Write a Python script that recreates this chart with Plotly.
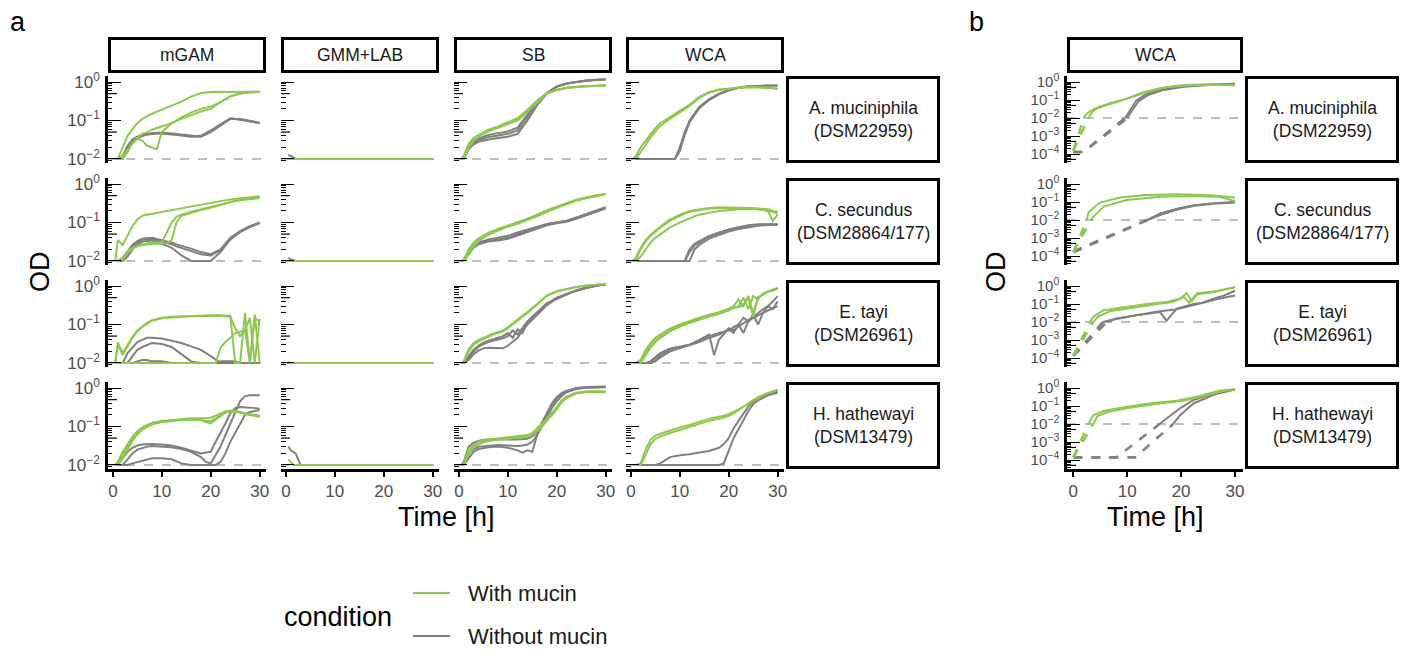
import math
import plotly.graph_objects as go

# ------------------------------------------------------------------ data
MEDIA = ["mGAM", "GMM+LAB", "SB", "WCA"]
STRAINS = ["A. muciniphila<br>(DSM22959)", "C. secundus<br>(DSM28864/177)",
           "E. tayi<br>(DSM26961)", "H. hathewayi<br>(DSM13479)"]
CONDITIONS = ["With mucin", "Without mucin"]
DETECTION_LIMIT = 0.01
X_TICKS = [0, 10, 20, 30]
A_Y_TICKS = [0.01, 0.1, 1]
B_Y_TICKS = [1e-4, 1e-3, 1e-2, 1e-1, 1]

# --- A. muciniphila
T_AM_MGAM = [0.5, 1, 2, 3, 4, 5, 6, 7, 8, 9, 10, 12, 14, 16, 18, 20, 22, 24, 26, 28, 30]
AM_MGAM_W = [
    [0.01, 0.01, 0.02, 0.04, 0.06, 0.085, 0.11, 0.13, 0.15, 0.17, 0.19, 0.24, 0.31, 0.42, 0.52, 0.55, 0.55, 0.56, 0.57, 0.57, 0.56],
    [0.01, 0.01, 0.012, 0.018, 0.025, 0.035, 0.045, 0.05, 0.058, 0.064, 0.07, 0.085, 0.11, 0.14, 0.17, 0.2, 0.3, 0.42, 0.5, 0.54, 0.55],
    [0.01, 0.01, 0.01, 0.015, 0.026, 0.033, 0.03, 0.022, 0.02, 0.018, 0.05, 0.085, 0.12, 0.16, 0.2, 0.23, 0.3, 0.43, 0.52, 0.55, 0.56],
]
AM_MGAM_WO = [
    [0.01, 0.01, 0.012, 0.022, 0.032, 0.038, 0.042, 0.045, 0.047, 0.048, 0.048, 0.046, 0.043, 0.04, 0.038, 0.05, 0.075, 0.11, 0.11, 0.1, 0.088],
    [0.01, 0.01, 0.011, 0.02, 0.03, 0.036, 0.04, 0.044, 0.046, 0.047, 0.047, 0.045, 0.042, 0.039, 0.04, 0.055, 0.08, 0.115, 0.105, 0.095, 0.085],
    [0.01, 0.01, 0.01, 0.018, 0.028, 0.034, 0.04, 0.043, 0.045, 0.046, 0.046, 0.044, 0.041, 0.038, 0.039, 0.052, 0.078, 0.112, 0.108, 0.098, 0.086],
]
T_AM_GMM = [0.5, 1, 2, 30]
AM_GMM_W = [[0.01, 0.01, 0.01, 0.01]]
AM_GMM_WO = [[0.013, 0.012, 0.01, 0.01]]
T_AM_SB = [0.5, 1, 2, 3, 4, 5, 6, 8, 10, 12, 14, 16, 18, 20, 22, 24, 26, 28, 30]
AM_SB_W = [
    [0.01, 0.01, 0.02, 0.03, 0.038, 0.045, 0.052, 0.065, 0.08, 0.1, 0.17, 0.3, 0.5, 0.62, 0.7, 0.75, 0.78, 0.8, 0.82],
    [0.01, 0.01, 0.022, 0.032, 0.04, 0.047, 0.055, 0.068, 0.085, 0.11, 0.18, 0.32, 0.5, 0.62, 0.7, 0.75, 0.78, 0.8, 0.81],
    [0.01, 0.012, 0.025, 0.035, 0.042, 0.05, 0.058, 0.07, 0.088, 0.115, 0.19, 0.33, 0.52, 0.63, 0.71, 0.76, 0.79, 0.8, 0.82],
]
AM_SB_WO = [
    [0.01, 0.01, 0.018, 0.024, 0.028, 0.03, 0.032, 0.035, 0.038, 0.045, 0.1, 0.25, 0.5, 0.75, 0.9, 1.0, 1.08, 1.13, 1.16],
    [0.01, 0.01, 0.019, 0.026, 0.031, 0.034, 0.037, 0.041, 0.045, 0.055, 0.12, 0.28, 0.52, 0.76, 0.92, 1.02, 1.1, 1.15, 1.18],
    [0.01, 0.01, 0.02, 0.028, 0.034, 0.038, 0.042, 0.047, 0.052, 0.065, 0.14, 0.3, 0.53, 0.77, 0.92, 1.02, 1.1, 1.14, 1.17],
]
T_AM_WCA = [0.5, 1, 2, 3, 4, 5, 6, 8, 9, 10, 11, 12, 14, 16, 18, 20, 22, 24, 26, 28, 30]
AM_WCA_W = [
    [0.01, 0.012, 0.02, 0.03, 0.045, 0.063, 0.085, 0.125, 0.15, 0.18, 0.22, 0.26, 0.41, 0.55, 0.64, 0.68, 0.72, 0.74, 0.74, 0.72, 0.68],
    [0.01, 0.01, 0.015, 0.024, 0.036, 0.052, 0.072, 0.11, 0.135, 0.165, 0.2, 0.24, 0.39, 0.53, 0.62, 0.67, 0.71, 0.73, 0.73, 0.71, 0.67],
]
AM_WCA_WO = [
    [0.01, 0.01, 0.01, 0.01, 0.01, 0.01, 0.01, 0.01, 0.01, 0.02, 0.05, 0.1, 0.23, 0.36, 0.5, 0.62, 0.72, 0.78, 0.8, 0.82, 0.82],
    [0.01, 0.01, 0.01, 0.01, 0.01, 0.01, 0.01, 0.01, 0.01, 0.016, 0.042, 0.09, 0.21, 0.34, 0.48, 0.6, 0.7, 0.77, 0.8, 0.81, 0.81],
]

# --- C. secundus
T_CS_MGAM = [0.5, 1, 2, 3, 4, 5, 6, 8, 10, 11, 12, 13, 14, 16, 18, 20, 22, 24, 26, 28, 30]
CS_MGAM_W = [
    [0.01, 0.035, 0.026, 0.045, 0.08, 0.12, 0.15, 0.17, 0.19, 0.2, 0.21, 0.22, 0.23, 0.26, 0.29, 0.33, 0.37, 0.4, 0.43, 0.46, 0.48],
    [0.01, 0.01, 0.012, 0.018, 0.022, 0.025, 0.027, 0.03, 0.03, 0.055, 0.1, 0.14, 0.16, 0.19, 0.22, 0.25, 0.3, 0.35, 0.39, 0.42, 0.44],
    [0.01, 0.01, 0.011, 0.016, 0.021, 0.024, 0.026, 0.028, 0.028, 0.029, 0.035, 0.1, 0.15, 0.18, 0.21, 0.24, 0.29, 0.34, 0.38, 0.41, 0.43],
]
CS_MGAM_WO = [
    [0.01, 0.01, 0.012, 0.018, 0.026, 0.033, 0.038, 0.04, 0.035, 0.032, 0.03, 0.027, 0.025, 0.021, 0.017, 0.015, 0.02, 0.04, 0.06, 0.08, 0.1],
    [0.01, 0.01, 0.011, 0.016, 0.024, 0.031, 0.036, 0.037, 0.032, 0.029, 0.027, 0.024, 0.022, 0.018, 0.015, 0.014, 0.019, 0.038, 0.058, 0.078, 0.098],
    [0.01, 0.01, 0.01, 0.013, 0.02, 0.027, 0.032, 0.034, 0.028, 0.025, 0.022, 0.018, 0.014, 0.01, 0.01, 0.01, 0.017, 0.036, 0.056, 0.076, 0.095],
]
T_CS_GMM = [0.5, 1, 2, 30]
CS_GMM_W = [[0.01, 0.01, 0.01, 0.01]]
CS_GMM_WO = [[0.012, 0.011, 0.01, 0.01]]
T_CS_SB = [0.5, 1, 2, 3, 4, 5, 6, 8, 10, 12, 14, 16, 18, 20, 22, 24, 26, 28, 30]
CS_SB_W = [
    [0.01, 0.01, 0.017, 0.027, 0.036, 0.045, 0.052, 0.066, 0.078, 0.095, 0.12, 0.15, 0.2, 0.25, 0.31, 0.38, 0.44, 0.5, 0.55],
    [0.01, 0.011, 0.02, 0.03, 0.038, 0.046, 0.054, 0.068, 0.082, 0.1, 0.125, 0.16, 0.21, 0.26, 0.32, 0.39, 0.45, 0.51, 0.55],
    [0.01, 0.01, 0.015, 0.024, 0.032, 0.04, 0.048, 0.062, 0.078, 0.093, 0.115, 0.145, 0.19, 0.24, 0.3, 0.37, 0.43, 0.49, 0.54],
]
CS_SB_WO = [
    [0.01, 0.01, 0.016, 0.023, 0.028, 0.031, 0.033, 0.036, 0.04, 0.05, 0.06, 0.075, 0.09, 0.1, 0.11, 0.13, 0.16, 0.2, 0.24],
    [0.01, 0.01, 0.015, 0.022, 0.027, 0.03, 0.032, 0.034, 0.038, 0.046, 0.056, 0.07, 0.085, 0.095, 0.105, 0.125, 0.155, 0.19, 0.23],
    [0.01, 0.01, 0.018, 0.025, 0.03, 0.033, 0.036, 0.04, 0.045, 0.055, 0.065, 0.078, 0.092, 0.102, 0.112, 0.135, 0.165, 0.21, 0.25],
]
T_CS_WCA = [0.5, 1, 2, 3, 4, 5, 6, 8, 10, 11, 12, 13, 14, 16, 18, 20, 22, 24, 26, 28, 29, 30]
CS_WCA_W = [
    [0.01, 0.012, 0.022, 0.035, 0.048, 0.062, 0.078, 0.12, 0.16, 0.18, 0.2, 0.21, 0.22, 0.24, 0.25, 0.25, 0.25, 0.24, 0.23, 0.22, 0.2, 0.19],
    [0.01, 0.01, 0.013, 0.02, 0.03, 0.04, 0.05, 0.075, 0.1, 0.115, 0.13, 0.145, 0.16, 0.18, 0.2, 0.21, 0.22, 0.22, 0.22, 0.2, 0.11, 0.16],
    [0.01, 0.011, 0.02, 0.032, 0.045, 0.058, 0.073, 0.11, 0.15, 0.17, 0.19, 0.2, 0.21, 0.23, 0.24, 0.24, 0.24, 0.235, 0.225, 0.2, 0.19, 0.17],
]
CS_WCA_WO = [
    [0.01, 0.01, 0.01, 0.01, 0.01, 0.01, 0.01, 0.01, 0.01, 0.01, 0.02, 0.028, 0.033, 0.045, 0.055, 0.066, 0.075, 0.085, 0.09, 0.092, 0.092, 0.09],
    [0.01, 0.01, 0.01, 0.01, 0.01, 0.01, 0.01, 0.01, 0.01, 0.01, 0.017, 0.025, 0.03, 0.042, 0.052, 0.063, 0.072, 0.082, 0.087, 0.09, 0.09, 0.088],
    [0.01, 0.01, 0.01, 0.01, 0.01, 0.01, 0.01, 0.01, 0.01, 0.01, 0.01, 0.02, 0.026, 0.038, 0.048, 0.058, 0.068, 0.076, 0.082, 0.086, 0.087, 0.087],
]

# --- E. tayi
T_ET_MGAM = [0.5, 1, 2, 3, 4, 5, 6, 7, 8, 10, 12, 14, 16, 18, 20, 21, 22, 23, 24, 25, 26, 27, 28, 29, 30]
ET_MGAM_W = [
    [0.01, 0.034, 0.018, 0.03, 0.048, 0.07, 0.09, 0.11, 0.13, 0.15, 0.16, 0.165, 0.17, 0.17, 0.175, 0.175, 0.175, 0.17, 0.17, 0.01, 0.01, 0.2, 0.01, 0.18, 0.01],
    [0.01, 0.03, 0.016, 0.028, 0.045, 0.066, 0.086, 0.105, 0.125, 0.145, 0.155, 0.16, 0.165, 0.168, 0.17, 0.17, 0.17, 0.165, 0.16, 0.08, 0.05, 0.07, 0.15, 0.01, 0.14],
    [0.01, 0.01, 0.01, 0.01, 0.01, 0.01, 0.01, 0.01, 0.01, 0.01, 0.01, 0.01, 0.01, 0.01, 0.01, 0.01, 0.025, 0.035, 0.045, 0.06, 0.065, 0.07, 0.01, 0.15, 0.12],
]
ET_MGAM_WO = [
    [0.01, 0.01, 0.01, 0.018, 0.026, 0.035, 0.04, 0.045, 0.045, 0.043, 0.038, 0.033, 0.027, 0.022, 0.015, 0.012, 0.01, 0.01, 0.01, 0.01, 0.01, 0.01, 0.01, 0.01, 0.01],
    [0.01, 0.01, 0.01, 0.01, 0.015, 0.022, 0.026, 0.03, 0.033, 0.031, 0.026, 0.017, 0.011, 0.01, 0.01, 0.01, 0.01, 0.01, 0.01, 0.01, 0.01, 0.01, 0.01, 0.01, 0.01],
    [0.01, 0.01, 0.01, 0.01, 0.01, 0.011, 0.012, 0.012, 0.011, 0.011, 0.01, 0.01, 0.01, 0.01, 0.01, 0.01, 0.011, 0.011, 0.011, 0.011, 0.01, 0.01, 0.01, 0.01, 0.01],
]
T_ET_GMM = [0.5, 1, 2, 30]
ET_GMM_W = [[0.01, 0.01, 0.01, 0.01]]
ET_GMM_WO = [[0.0105, 0.01, 0.01, 0.01]]
T_ET_SB = [0.5, 1, 2, 3, 4, 5, 6, 7, 8, 9, 10, 11, 12, 13, 14, 16, 18, 20, 22, 24, 26, 28, 30]
ET_SB_W = [
    [0.01, 0.01, 0.02, 0.03, 0.036, 0.042, 0.048, 0.055, 0.06, 0.066, 0.08, 0.1, 0.13, 0.16, 0.2, 0.33, 0.56, 0.72, 0.84, 0.94, 1.02, 1.1, 1.15],
    [0.01, 0.011, 0.023, 0.033, 0.04, 0.046, 0.052, 0.058, 0.064, 0.07, 0.085, 0.105, 0.135, 0.17, 0.21, 0.34, 0.57, 0.73, 0.85, 0.95, 1.03, 1.1, 1.14],
]
ET_SB_WO = [
    [0.01, 0.01, 0.015, 0.022, 0.028, 0.034, 0.038, 0.042, 0.045, 0.05, 0.06, 0.045, 0.075, 0.06, 0.11, 0.2, 0.34, 0.5, 0.62, 0.75, 0.9, 1.02, 1.1],
    [0.01, 0.01, 0.012, 0.017, 0.021, 0.024, 0.025, 0.025, 0.025, 0.024, 0.028, 0.035, 0.045, 0.07, 0.1, 0.18, 0.32, 0.48, 0.62, 0.76, 0.9, 1.02, 1.1],
    [0.01, 0.01, 0.014, 0.02, 0.026, 0.031, 0.035, 0.038, 0.04, 0.044, 0.05, 0.07, 0.055, 0.08, 0.12, 0.21, 0.36, 0.46, 0.6, 0.78, 0.92, 1.03, 1.12],
]
T_ET_WCA = [0.5, 1, 2, 3, 4, 5, 6, 8, 10, 12, 14, 16, 17, 18, 20, 21, 22, 23, 24, 25, 26, 27, 28, 29, 30]
ET_WCA_W = [
    [0.01, 0.01, 0.012, 0.022, 0.033, 0.045, 0.055, 0.078, 0.1, 0.125, 0.15, 0.18, 0.195, 0.21, 0.26, 0.3, 0.45, 0.3, 0.55, 0.2, 0.5, 0.6, 0.72, 0.8, 0.9],
    [0.01, 0.01, 0.011, 0.018, 0.028, 0.038, 0.048, 0.07, 0.092, 0.115, 0.14, 0.165, 0.18, 0.2, 0.24, 0.27, 0.3, 0.5, 0.25, 0.55, 0.45, 0.65, 0.7, 0.78, 0.85],
    [0.01, 0.01, 0.01, 0.016, 0.025, 0.035, 0.045, 0.066, 0.088, 0.11, 0.135, 0.16, 0.175, 0.19, 0.23, 0.28, 0.28, 0.32, 0.5, 0.16, 0.52, 0.6, 0.72, 0.75, 0.88],
]
ET_WCA_WO = [
    [0.01, 0.01, 0.01, 0.01, 0.011, 0.014, 0.018, 0.024, 0.027, 0.03, 0.04, 0.055, 0.016, 0.04, 0.08, 0.07, 0.09, 0.11, 0.13, 0.15, 0.17, 0.2, 0.23, 0.26, 0.3],
    [0.01, 0.01, 0.01, 0.01, 0.01, 0.012, 0.016, 0.022, 0.026, 0.03, 0.038, 0.05, 0.055, 0.06, 0.07, 0.085, 0.1, 0.06, 0.12, 0.15, 0.2, 0.25, 0.3, 0.4, 0.55],
    [0.01, 0.01, 0.01, 0.01, 0.01, 0.011, 0.014, 0.02, 0.024, 0.028, 0.035, 0.045, 0.05, 0.055, 0.075, 0.06, 0.1, 0.15, 0.12, 0.18, 0.1, 0.2, 0.3, 0.25, 0.4],
]

# --- H. hathewayi
T_HH_MGAM = [0.5, 1, 2, 3, 4, 5, 6, 7, 8, 10, 12, 14, 16, 18, 19, 20, 21, 22, 23, 24, 25, 26, 27, 28, 30]
HH_MGAM_W = [
    [0.01, 0.012, 0.022, 0.035, 0.055, 0.075, 0.095, 0.11, 0.125, 0.14, 0.15, 0.16, 0.165, 0.165, 0.165, 0.17, 0.19, 0.22, 0.25, 0.26, 0.25, 0.24, 0.22, 0.21, 0.19],
    [0.01, 0.01, 0.018, 0.03, 0.048, 0.068, 0.088, 0.104, 0.118, 0.135, 0.145, 0.152, 0.155, 0.15, 0.14, 0.14, 0.16, 0.2, 0.24, 0.25, 0.24, 0.23, 0.21, 0.2, 0.18],
    [0.01, 0.01, 0.015, 0.026, 0.042, 0.062, 0.082, 0.098, 0.112, 0.13, 0.14, 0.148, 0.152, 0.148, 0.13, 0.12, 0.15, 0.19, 0.23, 0.25, 0.245, 0.235, 0.22, 0.2, 0.185],
]
HH_MGAM_WO = [
    [0.01, 0.01, 0.015, 0.022, 0.028, 0.032, 0.034, 0.035, 0.035, 0.034, 0.032, 0.028, 0.024, 0.02, 0.021, 0.022, 0.04, 0.067, 0.12, 0.22, 0.3, 0.32, 0.32, 0.31, 0.29],
    [0.01, 0.01, 0.01, 0.014, 0.02, 0.025, 0.028, 0.03, 0.031, 0.03, 0.029, 0.026, 0.022, 0.016, 0.012, 0.011, 0.018, 0.03, 0.06, 0.12, 0.25, 0.45, 0.62, 0.65, 0.65],
    [0.01, 0.01, 0.01, 0.01, 0.011, 0.012, 0.013, 0.014, 0.015, 0.015, 0.014, 0.011, 0.01, 0.01, 0.01, 0.01, 0.01, 0.012, 0.02, 0.04, 0.07, 0.12, 0.2, 0.24, 0.27],
]
T_HH_GMM = [0.5, 1, 1.5, 2, 2.5, 3, 30]
HH_GMM_W = [[0.014, 0.012, 0.01, 0.01, 0.01, 0.01, 0.01]]
HH_GMM_WO = [[0.03, 0.024, 0.022, 0.02, 0.014, 0.01, 0.01]]
T_HH_SB = [0.5, 1, 2, 3, 4, 5, 6, 8, 10, 12, 13, 14, 15, 16, 17, 18, 19, 20, 21, 22, 24, 26, 28, 30]
HH_SB_W = [
    [0.01, 0.01, 0.024, 0.032, 0.038, 0.042, 0.044, 0.047, 0.049, 0.052, 0.054, 0.056, 0.062, 0.08, 0.11, 0.15, 0.2, 0.3, 0.45, 0.58, 0.75, 0.8, 0.8, 0.8],
    [0.01, 0.01, 0.02, 0.028, 0.034, 0.039, 0.042, 0.045, 0.048, 0.05, 0.053, 0.055, 0.06, 0.075, 0.1, 0.14, 0.19, 0.28, 0.42, 0.55, 0.72, 0.78, 0.78, 0.78],
    [0.01, 0.011, 0.026, 0.034, 0.04, 0.044, 0.046, 0.049, 0.051, 0.054, 0.056, 0.06, 0.068, 0.088, 0.12, 0.16, 0.22, 0.32, 0.48, 0.6, 0.77, 0.82, 0.83, 0.82],
]
HH_SB_WO = [
    [0.01, 0.012, 0.03, 0.038, 0.042, 0.045, 0.046, 0.047, 0.046, 0.046, 0.046, 0.048, 0.055, 0.07, 0.12, 0.22, 0.36, 0.52, 0.7, 0.82, 1.0, 1.07, 1.1, 1.1],
    [0.01, 0.01, 0.015, 0.022, 0.026, 0.028, 0.029, 0.03, 0.028, 0.024, 0.021, 0.024, 0.022, 0.06, 0.13, 0.22, 0.4, 0.58, 0.74, 0.85, 0.98, 1.03, 1.05, 1.05],
    [0.01, 0.01, 0.02, 0.026, 0.03, 0.031, 0.032, 0.033, 0.032, 0.031, 0.032, 0.034, 0.04, 0.06, 0.1, 0.18, 0.3, 0.45, 0.62, 0.78, 0.95, 1.02, 1.05, 1.06],
]
T_HH_WCA = [0.5, 1, 2, 3, 4, 5, 6, 8, 10, 12, 14, 16, 18, 19, 20, 21, 22, 23, 24, 25, 26, 28, 30]
HH_WCA_W = [
    [0.01, 0.01, 0.011, 0.025, 0.045, 0.058, 0.065, 0.08, 0.095, 0.11, 0.135, 0.16, 0.18, 0.19, 0.21, 0.24, 0.28, 0.33, 0.4, 0.5, 0.58, 0.75, 0.9],
    [0.01, 0.01, 0.01, 0.018, 0.035, 0.048, 0.055, 0.068, 0.082, 0.097, 0.118, 0.14, 0.16, 0.17, 0.19, 0.22, 0.27, 0.32, 0.39, 0.48, 0.56, 0.73, 0.88],
]
HH_WCA_WO = [
    [0.01, 0.01, 0.01, 0.01, 0.01, 0.01, 0.011, 0.016, 0.018, 0.019, 0.021, 0.023, 0.028, 0.035, 0.05, 0.09, 0.14, 0.22, 0.33, 0.45, 0.55, 0.7, 0.8],
    [0.01, 0.01, 0.01, 0.01, 0.01, 0.01, 0.01, 0.01, 0.01, 0.01, 0.01, 0.01, 0.01, 0.011, 0.025, 0.05, 0.085, 0.15, 0.25, 0.38, 0.48, 0.65, 0.75],
]

# --- panel b (WCA, back-extrapolated below the detection limit)
B_AM_W = [([1.9, 2.5, 3.7, 5, 6.8, 9.9, 13, 16.1, 19.2, 22.3, 26, 30], [0.01, 0.018, 0.03, 0.045, 0.066, 0.12, 0.27, 0.46, 0.62, 0.72, 0.74, 0.68]),
          ([2.8, 3.5, 4.5, 6, 8, 11, 14, 17, 20, 24, 30], [0.01, 0.022, 0.035, 0.05, 0.08, 0.15, 0.3, 0.5, 0.63, 0.72, 0.66])]
B_AM_W_EXT = [([0, 1.9], [1.5e-4, 0.01]), ([0, 2.8], [1.5e-4, 0.01])]
B_AM_WO = [([9.6, 10.5, 11.7, 13.6, 16.1, 19.8, 25.4, 30], [0.01, 0.026, 0.094, 0.22, 0.37, 0.57, 0.74, 0.81]),
           ([10, 11, 12.2, 14, 16.5, 20.5, 26, 30], [0.01, 0.03, 0.09, 0.2, 0.35, 0.55, 0.72, 0.8])]
B_AM_WO_EXT = [([0, 1.9, 9.6], [1.3e-4, 1.3e-4, 0.01]), ([0, 1.9, 10], [1.3e-4, 1.3e-4, 0.01])]

B_CS_W = [([2.5, 2.8, 4.9, 8.7, 13.6, 19.2, 25.4, 30], [0.01, 0.026, 0.094, 0.18, 0.25, 0.27, 0.24, 0.18]),
          ([3.4, 5.6, 9.9, 16.1, 22, 27, 30], [0.012, 0.056, 0.13, 0.2, 0.22, 0.2, 0.115])]
B_CS_W_EXT = [([0, 2.5], [1.6e-4, 0.01]), ([0, 3.4], [1.6e-4, 0.012])]
B_CS_WO = [([13.6, 16.1, 19.2, 22.3, 26, 30], [0.01, 0.023, 0.043, 0.066, 0.085, 0.1]),
           ([13.8, 16.5, 19.5, 22.5, 26, 30], [0.01, 0.021, 0.04, 0.062, 0.08, 0.095])]
B_CS_WO_EXT = [([0, 13.6], [1.8e-4, 0.01]), ([0, 13.8], [1.6e-4, 0.01])]

B_ET_W = [([3.1, 3.7, 5.6, 9.9, 13.6, 17.3, 19.8, 21, 22, 23, 26, 30], [0.01, 0.02, 0.045, 0.07, 0.1, 0.13, 0.2, 0.4, 0.15, 0.35, 0.45, 0.9]),
          ([3.7, 4.6, 6.8, 11, 15, 18.5, 20.5, 21.5, 23, 26, 30], [0.01, 0.02, 0.04, 0.065, 0.095, 0.13, 0.25, 0.12, 0.4, 0.5, 0.85])]
B_ET_W_EXT = [([0, 3.1], [1.3e-4, 0.01]), ([0, 3.7], [1.3e-4, 0.01])]
B_ET_WO = [([6.2, 8, 11.7, 16.1, 17.3, 19.2, 22.3, 24, 26, 28, 30], [0.01, 0.015, 0.024, 0.036, 0.012, 0.056, 0.1, 0.12, 0.2, 0.3, 0.55]),
           ([5.5, 8, 12, 16, 19, 21, 23, 25, 27, 30], [0.01, 0.016, 0.025, 0.04, 0.05, 0.07, 0.1, 0.15, 0.2, 0.3])]
B_ET_WO_EXT = [([0, 6.2], [1.3e-4, 0.01]), ([0, 5.5], [1.3e-4, 0.01])]

B_HH_W = [([2.8, 3.7, 5.6, 9.9, 14.8, 19.2, 23.5, 27.2, 30], [0.01, 0.031, 0.053, 0.092, 0.15, 0.2, 0.37, 0.73, 0.87]),
          ([3.7, 4.5, 6.5, 11, 16, 20.5, 24.5, 28, 30], [0.01, 0.028, 0.048, 0.085, 0.14, 0.2, 0.4, 0.72, 0.85])]
B_HH_W_EXT = [([0, 2.8], [1.4e-4, 0.01]), ([0, 3.7], [1.4e-4, 0.01])]
B_HH_WO = [([16, 17.3, 19.8, 22.3, 26, 30], [0.01, 0.02, 0.075, 0.22, 0.52, 0.87]),
           ([18.5, 19.8, 22.3, 26, 30], [0.01, 0.031, 0.14, 0.42, 0.83])]
B_HH_WO_EXT = [([0, 8, 16], [1.4e-4, 1.4e-4, 0.01]), ([0, 11.5, 18.5], [1.4e-4, 1.4e-4, 0.01])]

PANELS_A = [
    [(T_AM_MGAM, AM_MGAM_W, AM_MGAM_WO), (T_AM_GMM, AM_GMM_W, AM_GMM_WO), (T_AM_SB, AM_SB_W, AM_SB_WO), (T_AM_WCA, AM_WCA_W, AM_WCA_WO)],
    [(T_CS_MGAM, CS_MGAM_W, CS_MGAM_WO), (T_CS_GMM, CS_GMM_W, CS_GMM_WO), (T_CS_SB, CS_SB_W, CS_SB_WO), (T_CS_WCA, CS_WCA_W, CS_WCA_WO)],
    [(T_ET_MGAM, ET_MGAM_W, ET_MGAM_WO), (T_ET_GMM, ET_GMM_W, ET_GMM_WO), (T_ET_SB, ET_SB_W, ET_SB_WO), (T_ET_WCA, ET_WCA_W, ET_WCA_WO)],
    [(T_HH_MGAM, HH_MGAM_W, HH_MGAM_WO), (T_HH_GMM, HH_GMM_W, HH_GMM_WO), (T_HH_SB, HH_SB_W, HH_SB_WO), (T_HH_WCA, HH_WCA_W, HH_WCA_WO)],
]
PANELS_B = [
    (B_AM_W, B_AM_W_EXT, B_AM_WO, B_AM_WO_EXT),
    (B_CS_W, B_CS_W_EXT, B_CS_WO, B_CS_WO_EXT),
    (B_ET_W, B_ET_W_EXT, B_ET_WO, B_ET_WO_EXT),
    (B_HH_W, B_HH_W_EXT, B_HH_WO, B_HH_WO_EXT),
]

# ------------------------------------------------------------------ style / geometry
W, H = 1403, 653
FONT = "Liberation Sans, Arial, Helvetica, sans-serif"
GREEN = "#8DC94F"
GRAY = "#808080"
HLINE = "#BEBEBE"
TICKGRAY = "#4D4D4D"
STRIPTXT = "#1A1A1A"

A_LEFT = [108, 281, 454, 626]
A_WIDTH = 158
ROW_TOP = [76, 178, 280, 382]
ROW_H = 87
B_LEFT = 1067
B_WIDTH = 176
STRIP_Y = (37, 73)
A_ROWSTRIP_X = (786, 940)
B_ROWSTRIP_X = (1245, 1399)
A_XRANGE = [-1.0, 31.3]
B_XRANGE = [-1.17, 31.48]
A_YRANGE = [-2.105, 0.158]
B_YRANGE = [-4.5, 0.34]


def fx(p):
    return p / W


def fy(p):
    return 1 - p / H


def sup(v):
    e = int(round(math.log10(v)))
    return "10<sup>" + ("\u2212" if e < 0 else "") + str(abs(e)) + "</sup>"


fig = go.Figure()
layout = {}
shapes = []
annotations = []


def log_vals(yr, digits):
    out = []
    for d in range(math.floor(yr[0]) - 1, math.ceil(yr[1]) + 1):
        for k in digits:
            v = k * 10.0 ** d
            if yr[0] <= math.log10(v) <= yr[1]:
                out.append(v)
    return out


def add_axes(n, left, width, top, xr, yr, ymajor, show_x, show_ylab, ylab_size):
    sid = "" if n == 1 else str(n)
    xax = dict(
        domain=[fx(left), fx(left + width)], range=xr, anchor="y" + sid,
        showgrid=False, zeroline=False, fixedrange=True,
        showline=show_x, linecolor="black", linewidth=2.5,
        ticks="outside" if show_x else "", ticklen=5, tickwidth=2, tickcolor="black",
        showticklabels=show_x, tickfont=dict(size=17, color=TICKGRAY, family=FONT),
    )
    if show_x:
        xax.update(tickmode="array", tickvals=X_TICKS, ticktext=[str(v) for v in X_TICKS])
    else:
        xax.update(tickmode="array", tickvals=[])
    layout["xaxis" + sid] = xax
    yax = dict(
        domain=[fy(top + ROW_H), fy(top)], type="log", range=yr, anchor="x" + sid,
        showgrid=False, zeroline=False, fixedrange=True,
        showline=show_ylab, linecolor="black", linewidth=2.5,
        ticks="inside", ticklen=13, tickwidth=1.3, tickcolor="black",
        tickmode="array", tickvals=ymajor,
        showticklabels=show_ylab, tickfont=dict(size=ylab_size, color=TICKGRAY, family=FONT),
        ticklabelstandoff=2,
        minor=dict(tickmode="array", tickvals=log_vals(yr, (2, 3, 4, 6, 7, 8, 9)),
                   ticks="inside", ticklen=4.5, tickwidth=1.2, tickcolor="black", showgrid=False),
    )
    if show_ylab:
        yax["ticktext"] = [sup(v) for v in ymajor]
    layout["yaxis" + sid] = yax
    for v in log_vals(yr, (5,)):
        shapes.append(dict(type="line", xref="x" + sid + " domain", yref="y" + sid,
                           x0=0, x1=9.0 / width, y0=v, y1=v,
                           line=dict(color="black", width=1.2), layer="above"))
    shapes.append(dict(type="line", xref="x" + sid + " domain", yref="y" + sid,
                       x0=0, x1=1, y0=DETECTION_LIMIT, y1=DETECTION_LIMIT,
                       line=dict(color=HLINE, width=2, dash="dash"), layer="below"))
    return sid


def line(sid, x, y, color, dash=None, width=2.0):
    fig.add_trace(go.Scatter(x=x, y=y, mode="lines", xaxis="x" + sid, yaxis="y" + sid,
                             line=dict(color=color, width=width, dash=dash),
                             showlegend=False, hoverinfo="skip"))


def strip(x0, x1, y0, y1, text):
    shapes.append(dict(type="rect", xref="paper", yref="paper",
                       x0=fx(x0 + 1.5), x1=fx(x1 - 1.5), y0=fy(y1 - 1.5), y1=fy(y0 + 1.5),
                       line=dict(color="black", width=3), fillcolor="white", layer="above"))
    annotations.append(dict(xref="paper", yref="paper", x=fx((x0 + x1) / 2), y=fy((y0 + y1) / 2),
                            text=text, showarrow=False, xanchor="center", yanchor="middle",
                            font=dict(size=17.5, color=STRIPTXT, family=FONT)))


# ------------------------------------------------------------------ panel a
n = 0
for r in range(4):
    for c in range(4):
        n += 1
        sid = add_axes(n, A_LEFT[c], A_WIDTH, ROW_TOP[r], A_XRANGE, A_YRANGE, A_Y_TICKS,
                       show_x=(r == 3), show_ylab=(c == 0), ylab_size=17)
        t, w_reps, wo_reps = PANELS_A[r][c]
        for rep in wo_reps:
            assert len(rep) == len(t)
            line(sid, t, rep, GRAY)
        for rep in w_reps:
            assert len(rep) == len(t)
            line(sid, t, rep, GREEN)

# ------------------------------------------------------------------ panel b
for r in range(4):
    n += 1
    sid = add_axes(n, B_LEFT, B_WIDTH, ROW_TOP[r], B_XRANGE, B_YRANGE, B_Y_TICKS,
                   show_x=(r == 3), show_ylab=True, ylab_size=15)
    w_sol, w_ext, wo_sol, wo_ext = PANELS_B[r]
    for tt, yy in wo_ext:
        line(sid, tt, yy, GRAY, dash="dash", width=2.6)
    for tt, yy in wo_sol:
        line(sid, tt, yy, GRAY)
    for tt, yy in w_ext:
        line(sid, tt, yy, GREEN, dash="dash", width=2.6)
    for tt, yy in w_sol:
        line(sid, tt, yy, GREEN)

# ------------------------------------------------------------------ strips
for c in range(4):
    strip(A_LEFT[c], A_LEFT[c] + A_WIDTH, STRIP_Y[0], STRIP_Y[1], MEDIA[c])
strip(B_LEFT, B_LEFT + B_WIDTH, STRIP_Y[0], STRIP_Y[1], "WCA")
for r in range(4):
    strip(A_ROWSTRIP_X[0], A_ROWSTRIP_X[1], ROW_TOP[r], ROW_TOP[r] + ROW_H, STRAINS[r])
    strip(B_ROWSTRIP_X[0], B_ROWSTRIP_X[1], ROW_TOP[r], ROW_TOP[r] + ROW_H, STRAINS[r])


# ------------------------------------------------------------------ titles / letters
def text(x, y, s, size, color="black", angle=0, xanchor="center"):
    annotations.append(dict(xref="paper", yref="paper", x=fx(x), y=fy(y), text=s, showarrow=False,
                            xanchor=xanchor, yanchor="middle", textangle=angle,
                            font=dict(size=size, color=color, family=FONT)))


text(18, 22, "a", 27)
text(976, 22, "b", 27)
text(40, 272, "OD", 27, angle=-90)
text(996, 272, "OD", 27, angle=-90)
text(446, 517, "Time [h]", 27)
text(1155, 517, "Time [h]", 27)

# legend
text(338, 617, "condition", 27)
for yk, col, lab in [(593, GREEN, CONDITIONS[0]), (636, GRAY, CONDITIONS[1])]:
    shapes.append(dict(type="line", xref="paper", yref="paper", x0=fx(413), x1=fx(450),
                       y0=fy(yk), y1=fy(yk), line=dict(color=col, width=2.2)))
    text(466, yk, lab, 22, color="#1A1A1A", xanchor="left")

fig.update_layout(
    width=W, height=H, margin=dict(l=0, r=0, t=0, b=0), autosize=False,
    paper_bgcolor="white", plot_bgcolor="white", template="none",
    font=dict(family=FONT), showlegend=False,
    shapes=shapes, annotations=annotations, **layout,
)
fig.write_html("out.html")
